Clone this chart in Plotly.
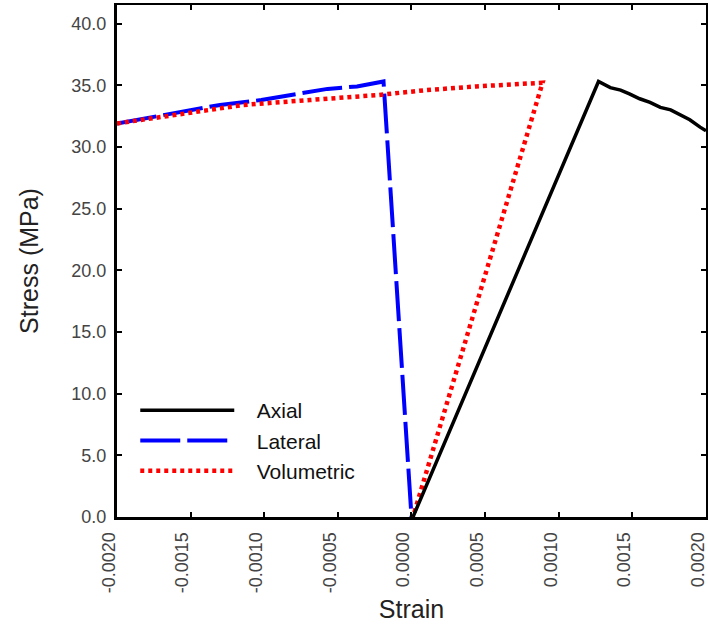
import plotly.graph_objects as go

# Axial strain curve
axial_strain = [0.00001, 0.00127, 0.00135, 0.00142, 0.00148, 0.00155, 0.00162,
                0.00169, 0.00176, 0.00182, 0.00189, 0.00196, 0.00200]
axial_stress = [0.0, 35.3, 34.8, 34.6, 34.3, 33.9, 33.6,
                33.2, 33.0, 32.6, 32.2, 31.6, 31.3]

# Lateral strain curve
lateral_strain = [-0.00200, -0.00157, -0.00130, -0.00102, -0.00078, -0.00057,
                  -0.00037, -0.00019, 0.00000]
lateral_stress = [31.9, 32.8, 33.4, 33.8, 34.3, 34.7, 34.9, 35.3, 0.0]

# Volumetric strain curve
vol_strain = [-0.00200, -0.00159, -0.00114, -0.00069, -0.00023, 0.00010,
              0.00044, 0.00089, 0.00001]
vol_stress = [31.9, 32.6, 33.4, 33.8, 34.2, 34.6, 34.9, 35.2, 0.0]

x_ticks = [-0.0020, -0.0015, -0.0010, -0.0005, 0.0, 0.0005, 0.0010, 0.0015, 0.0020]
x_tick_labels = ["-0.0020", "-0.0015", "-0.0010", "-0.0005", "0.0000",
                 "0.0005", "0.0010", "0.0015", "0.0020"]
y_ticks = [0, 5, 10, 15, 20, 25, 30, 35, 40]
y_tick_labels = ["0.0", "5.0", "10.0", "15.0", "20.0", "25.0", "30.0", "35.0", "40.0"]

FONT = "Liberation Sans, Arial, sans-serif"
NB = "\u00a0" * 3

fig = go.Figure()
fig.add_trace(go.Scatter(x=lateral_strain, y=lateral_stress, mode="lines", name=NB + "Lateral",
                         line=dict(color="#0000FF", width=4, dash="40px,7px"),
                         legendrank=2))
fig.add_trace(go.Scatter(x=vol_strain, y=vol_stress, mode="lines", name=NB + "Volumetric",
                         line=dict(color="#FF0000", width=4.5, dash="4px,4px"),
                         legendrank=3))
fig.add_trace(go.Scatter(x=axial_strain, y=axial_stress, mode="lines", name=NB + "Axial",
                         line=dict(color="#000000", width=3.5),
                         legendrank=1))

fig.update_layout(
    width=708, height=628,
    margin=dict(l=117, r=2, t=5, b=111),
    paper_bgcolor="white", plot_bgcolor="white",
    font=dict(family=FONT, color="#222"),
    showlegend=True,
    legend=dict(x=0.031, y=0.248, xanchor="left", yanchor="top",
                bgcolor="white", borderwidth=0,
                font=dict(family=FONT, size=21, color="#111"),
                itemwidth=94, tracegroupgap=0),
    xaxis=dict(range=[-0.002, 0.0020001], tickvals=x_ticks, ticktext=x_tick_labels,
               tickangle=-90, ticks="inside", ticklen=5, tickwidth=1.5,
               tickcolor="black", showline=True, linewidth=3, linecolor="black",
               mirror=False, showgrid=False, zeroline=False, automargin=False,
               ticklabeloverflow="allow", ticklabelshift=-8, ticklabelstandoff=5,
               tickfont=dict(family=FONT, size=18, color="#444"),
               title=dict(text="Strain", font=dict(family=FONT, size=25, color="#222"),
                          standoff=9)),
    xaxis2=dict(range=[-0.002, 0.0020001], overlaying="x", side="top", matches="x",
                tickvals=x_ticks, showticklabels=False, ticks="inside", ticklen=5,
                tickwidth=1.5, tickcolor="black", showline=True, linewidth=1.5,
                linecolor="black", showgrid=False, zeroline=False, automargin=False),
    yaxis=dict(range=[0, 41.5], tickvals=y_ticks, ticktext=y_tick_labels,
               ticks="inside", ticklen=5, tickwidth=1.5, tickcolor="black",
               showline=True, linewidth=3, linecolor="black", mirror="ticks",
               showgrid=False, zeroline=False, ticklabelstandoff=4, automargin=False,
               tickfont=dict(family=FONT, size=18, color="#444"),
               title=dict(text="Stress (MPa)", font=dict(family=FONT, size=25, color="#222"),
                          standoff=26)),
)
# invisible trace to anchor the top axis
fig.add_trace(go.Scatter(x=[None], y=[None], xaxis="x2", showlegend=False, hoverinfo="skip"))

fig.write_html("out.html")
